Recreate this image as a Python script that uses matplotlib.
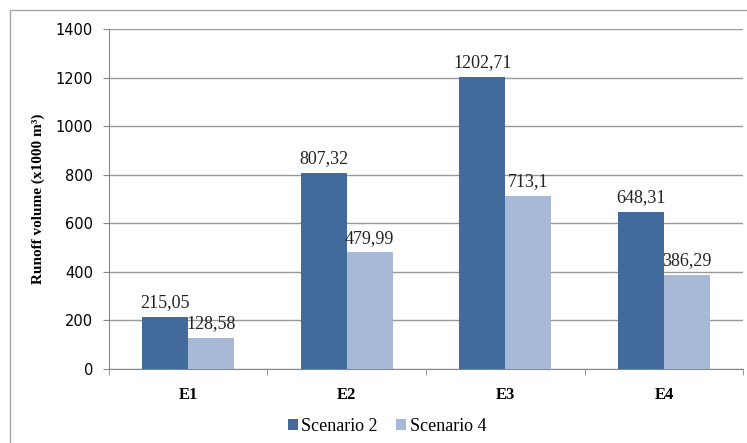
import matplotlib
matplotlib.use('Agg')
import matplotlib.pyplot as plt
import numpy as np
from matplotlib.patches import Rectangle

categories = ['E1', 'E2', 'E3', 'E4']
scenario2 = [215.05, 807.32, 1202.71, 648.31]
scenario4 = [128.58, 479.99, 713.1, 386.29]
labels2 = ['215,05', '807,32', '1202,71', '648,31']
labels4 = ['128,58', '479,99', '713,1', '386,29']
yticks = [0, 200, 400, 600, 800, 1000, 1200, 1400]

serif = ['Liberation Serif', 'DejaVu Serif']
sans = ['DejaVu Sans']

fig = plt.figure(figsize=(7.47, 4.43), dpi=100)
# outer chart border
fig.patches.append(Rectangle((10 / 747, -0.1), 1.0, 1 - 10 / 443 + 0.1,
                             transform=fig.transFigure, fill=False,
                             edgecolor='#a6a6a6', linewidth=1.0))
ax = fig.add_axes([0.1455, 0.167, 0.8497, 0.7675])

x = np.arange(len(categories))
w = 0.29
ax.bar(x - w / 2, scenario2, w, color='#426a9b', label='Scenario 2', zorder=3)
ax.bar(x + w / 2, scenario4, w, color='#a8b9d7', label='Scenario 4', zorder=3)

for i in range(len(categories)):
    ax.annotate(labels2[i], (x[i] - w / 2, scenario2[i]), xytext=(0, 7),
                textcoords='offset points', ha='center', va='baseline',
                family=serif, fontsize=13, color='#222222', zorder=4)
    ax.annotate(labels4[i], (x[i] + w / 2, scenario4[i]), xytext=(0, 7),
                textcoords='offset points', ha='center', va='baseline',
                family=serif, fontsize=13, color='#222222', zorder=4)

ax.set_xlim(-0.5, 3.5)
ax.set_ylim(0, 1400)
ax.set_yticks(yticks)
ax.set_yticklabels([str(t) for t in yticks], family=sans, fontsize=10.5)
ax.set_xticks(x)
ax.set_xticklabels(categories, family=serif, fontsize=12, fontweight='bold')
ax.set_xticks(np.arange(-0.5, 4.0, 1.0), minor=True)
ax.tick_params(axis='x', which='major', length=0, pad=13)
ax.tick_params(axis='x', which='minor', length=4.3, color='#888888')
ax.tick_params(axis='y', length=4.3, color='#888888', pad=7)
ax.grid(axis='y', color='#999999', linewidth=1.0, zorder=0)

for s in ['top', 'right']:
    ax.spines[s].set_visible(False)
for s in ['left', 'bottom']:
    ax.spines[s].set_color('#888888')

ax.set_ylabel('Runoff volume (x1000 m³)', family=serif, fontsize=11,
              fontweight='bold', labelpad=8)

ax.legend(loc='center', bbox_to_anchor=(0.4385, -0.168), ncol=2, frameon=False,
          prop={'family': serif, 'size': 13}, handlelength=0.55, handleheight=0.55,
          handletextpad=0.2, columnspacing=1.0, borderaxespad=0, borderpad=0)

fig.savefig('out.png', dpi=100)
